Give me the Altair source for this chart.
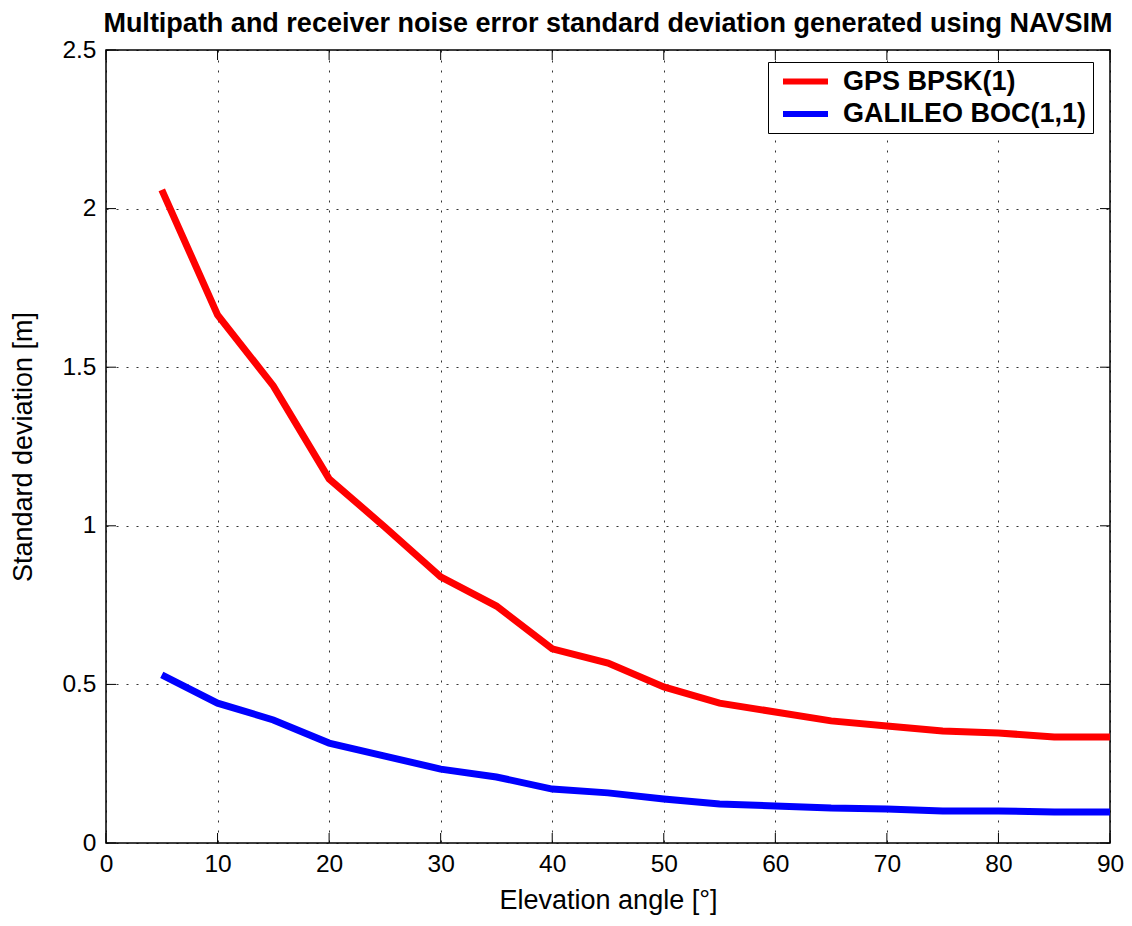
import altair as alt
import pandas as pd

elev = [5, 10, 15, 20, 25, 30, 35, 40, 45, 50, 55, 60, 65, 70, 75, 80, 85, 90]
gps = [2.059, 1.665, 1.441, 1.148, 0.996, 0.839, 0.747, 0.612, 0.567, 0.492,
       0.441, 0.413, 0.385, 0.369, 0.353, 0.347, 0.334, 0.334]
gal = [0.530, 0.441, 0.388, 0.315, 0.274, 0.233, 0.208, 0.170, 0.158, 0.139,
       0.123, 0.117, 0.110, 0.107, 0.101, 0.101, 0.098, 0.098]
series_names = ["GPS BPSK(1)", "GALILEO BOC(1,1)"]
series_colors = ["#ff0000", "#0000ff"]
xticks = [0, 10, 20, 30, 40, 50, 60, 70, 80, 90]
yticks = [0, 0.5, 1, 1.5, 2, 2.5]

W, H = 1004, 793
FONT = "Liberation Sans"
LFS = 24.5
TFS = 27

rows = []
for e, g, b in zip(elev, gps, gal):
    rows.append({"elev": e, "std": g, "series": series_names[0]})
    rows.append({"elev": e, "std": b, "series": series_names[1]})
df = pd.DataFrame(rows)

xs = alt.Scale(domain=[0, 90], nice=False, zero=False)
ys = alt.Scale(domain=[0, 2.5], nice=False, zero=False)

lines = alt.Chart(df).mark_line(strokeWidth=7).encode(
    x=alt.X("elev:Q", scale=xs,
            axis=alt.Axis(values=xticks, title="Elevation angle [°]", grid=True,
                          gridDash=[2, 8], gridColor="#000000", gridOpacity=0.8,
                          ticks=False, domain=False, labelPadding=9,
                          labelFlush=False, titlePadding=12)),
    y=alt.Y("std:Q", scale=ys,
            axis=alt.Axis(values=yticks, format="~g", title="Standard deviation [m]",
                          grid=True, gridDash=[2, 8], gridColor="#000000",
                          gridOpacity=0.8, ticks=False, domain=False,
                          labelPadding=10, labelFlush=False, titlePadding=24)),
    color=alt.Color("series:N",
                    scale=alt.Scale(domain=series_names, range=series_colors),
                    sort=series_names,
                    legend=alt.Legend(title=None, orient="none", legendX=662, legendY=12,
                                      symbolType="M-2.5,0H2.5", symbolSize=324,
                                      symbolStrokeWidth=6, labelFontSize=27,
                                      labelFontWeight="bold", labelFont=FONT,
                                      labelColor="#000000", labelLimit=0,
                                      strokeColor="#000000", fillColor="#ffffff",
                                      padding=6, rowPadding=4.5, labelOffset=24,
                                      symbolOffset=18)),
)

xt = pd.DataFrame({"v": xticks})
yt = pd.DataFrame({"v": yticks})
tb = alt.Chart(xt).mark_rule(color="black", strokeWidth=1)
bottom = tb.encode(x=alt.X("v:Q", scale=xs), y=alt.value(H), y2=alt.value(H - 10))
top = tb.encode(x=alt.X("v:Q", scale=xs), y=alt.value(0), y2=alt.value(10))
tl = alt.Chart(yt).mark_rule(color="black", strokeWidth=1)
left = tl.encode(y=alt.Y("v:Q", scale=ys), x=alt.value(0), x2=alt.value(10))
right = tl.encode(y=alt.Y("v:Q", scale=ys), x=alt.value(W), x2=alt.value(W - 10))

chart = alt.layer(lines, bottom, top, left, right).properties(
    width=W, height=H,
    title=alt.Title("Multipath and receiver noise error standard deviation generated using NAVSIM",
                    fontSize=27, fontWeight="bold", font=FONT, anchor="middle",
                    offset=1, dy=2, color="#000000"),
    autosize=alt.AutoSizeParams(type="none"),
    padding={"left": 98, "top": 42, "right": 14, "bottom": 75},
    background="#ffffff",
).configure_view(stroke="#000000", strokeWidth=1.5).configure_axis(
    labelFont=FONT, titleFont=FONT, labelFontSize=LFS, titleFontSize=TFS,
    labelColor="#000000", titleColor="#000000", titleFontWeight="normal"
)

chart.save("out.html", embed_options={"renderer": "svg", "actions": False})
